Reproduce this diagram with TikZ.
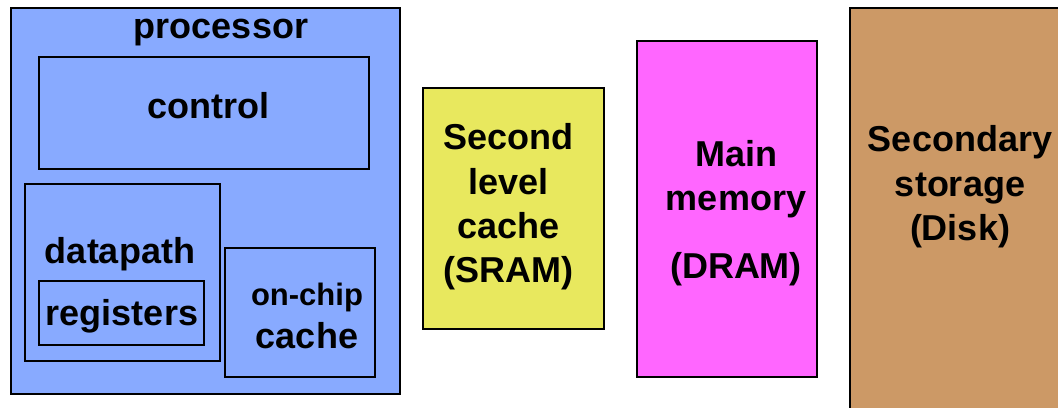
\documentclass[tikz,border=0pt]{standalone}
\usepackage{fontspec}
\setmainfont{Liberation Sans}
\definecolor{procblue}{RGB}{136,170,255}
\definecolor{sramyellow}{RGB}{232,232,94}
\definecolor{drammagenta}{RGB}{255,102,255}
\definecolor{diskbrown}{RGB}{204,153,102}

\begin{document}
\begin{tikzpicture}[x=0.5pt,y=-0.5pt]
  \tikzstyle{unit}=[rectangle, draw, line width=1.3pt, inner sep=0pt]
  \tikzstyle{txt}=[inner sep=0pt, font=\fontsize{18}{22.2}\selectfont\bfseries, align=center]
  \clip (0,0) rectangle (1058,407);
  \fill[white] (0,0) rectangle (1058,407);

  % processor and its parts
  \node[unit, fill=procblue, minimum width=194.5pt, minimum height=193pt] (proc) at (205.5,201) {};
  \node[unit, minimum width=165pt, minimum height=56pt] (ctrl) at (204,113) {};
  \node[unit, minimum width=97.5pt, minimum height=88.5pt] (dp) at (122.5,272.5) {};
  \node[unit, minimum width=82.5pt, minimum height=32pt] (regs) at (121.5,313) {};
  \node[unit, minimum width=75pt, minimum height=64.5pt] (oc) at (300,312.5) {};

  \node[txt, anchor=base] (proc_t) at (221,38) {processor};
  \node[txt, anchor=base] (ctrl_t) at (208,118) {control};
  \node[txt, anchor=base] (dp_t) at (120,263) {datapath};
  \node[txt, anchor=base] (regs_t) at (122,325) {registers};
  \node[txt, anchor=base, font=\fontsize{15.5}{18}\selectfont\bfseries] (oc_t1) at (307,305) {on-chip};
  \node[txt, anchor=base] (oc_t2) at (307,348) {cache};

  % memory levels
  \node[unit, fill=sramyellow, minimum width=90.5pt, minimum height=120.5pt] (sram) at (513.5,208.5) {};
  \node[unit, fill=drammagenta, minimum width=90pt, minimum height=168pt] (dram) at (727,209) {};
  \node[unit, fill=diskbrown, minimum width=115pt, minimum height=211pt] (disk) at (965,219) {};

  \node[txt] (sram_t) at (508.7,207) {Second\\level\\cache\\(SRAM)};
  \node[txt] (dram_t) at (736,213) {Main\\memory\\[11.5pt](DRAM)};
  \node[txt] (disk_t) at (960,187) {Secondary\\storage\\(Disk)};
\end{tikzpicture}
\end{document}
